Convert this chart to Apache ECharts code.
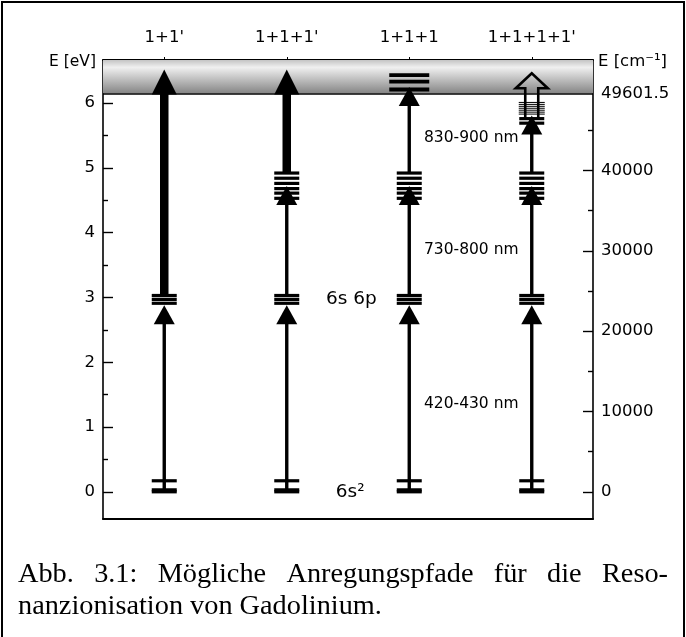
<!DOCTYPE html>
<html><head><meta charset="utf-8">
<script src="https://cdn.jsdelivr.net/npm/echarts@6/dist/echarts.min.js"></script>
<style>html,body{margin:0;padding:0;background:#fff}#c{width:686px;height:637px}</style>
</head><body><div id="c"></div>
<script>
// ---------- data ----------
const CM_PER_EV = 8065.544;
const columns = ["1+1'", "1+1+1'", "1+1+1", "1+1+1+1'"];
const leftTicks = [0, 1, 2, 3, 4, 5, 6];
const leftMinorTicks = [0.5, 1.5, 2.5, 3.5, 4.5, 5.5];
const rightTicksCm = [0, 10000, 20000, 30000, 40000];
const rightMinorTicksCm = [5000, 15000, 25000, 35000, 45000];
const ionLimitCm = 49601.5;

// energy levels (eV)
const groundEv = [0, 0.03, 0.17];
const firstExcitedEv = [2.91, 2.97, 3.03];          // 6s 6p
const secondExcitedEv = [4.53, 4.61, 4.68, 4.76, 4.84, 4.92];
const thirdExcitedEv = [5.69, 5.76];                // column 4
const rydbergEv = [5.83, 5.86, 5.89, 5.92, 5.95, 5.98, 6.01];
const autoIonEv = [6.21, 6.33, 6.43];               // column 3, above limit

// which level groups each column shows
const levelsByColumn = [
  [groundEv, firstExcitedEv],
  [groundEv, firstExcitedEv, secondExcitedEv],
  [groundEv, firstExcitedEv, secondExcitedEv],
  [groundEv, firstExcitedEv, secondExcitedEv, thirdExcitedEv]
];

// arrows [column, from eV, to eV]
const thinArrows = [
  [0, 0, 2.88], [1, 0, 2.88], [2, 0, 2.88], [3, 0, 2.88],
  [1, 3.03, 4.72], [2, 3.03, 4.72], [3, 3.03, 4.72],
  [2, 4.92, 6.25], [3, 4.92, 5.81]
];
const thickArrows = [[0, 3.03, 6.52], [1, 4.92, 6.52]];
const hollowArrows = [[3, 5.76, 6.46]];

const annotationTexts = ["6s 6p", "6s\u00b2", "420-430 nm", "730-800 nm", "830-900 nm"];
const annotationAnchors = [[1.32, 2.97], [1.40, 0.0], [2.12, 1.36], [2.12, 3.74], [2.12, 5.46]];

const captionLine1 = ['Abb.', '3.1:', 'Mögliche', 'Anregungspfade', 'für', 'die', 'Reso-'];
const captionLine2 = 'nanzionisation von Gadolinium.';

// ---------- build ----------
const yMin = -0.42, yMax = 6.665, xMin = -0.5, xMax = 3.5;
const ionEv = ionLimitCm / CM_PER_EV;
const toEv = cm => cm / CM_PER_EV;

const levelData = [];
levelsByColumn.forEach((groups, c) => groups.forEach(g => g.forEach(e => levelData.push([c, e]))));
const rydbergData = rydbergEv.map(e => [3, e]);
const autoIonData = autoIonEv.map(e => [2, e]);

const FONT = 'DejaVu Sans';

function levelRender(halfW, lw) {
  return function (params, api) {
    const p = api.coord([api.value(0), api.value(1)]);
    return { type: 'line', shape: { x1: p[0] - halfW, y1: p[1], x2: p[0] + halfW, y2: p[1] },
      style: { stroke: '#000', lineWidth: lw } };
  };
}
function arrowRender(shaftW, headW, headH) {
  return function (params, api) {
    const a = api.coord([api.value(0), api.value(1)]);
    const b = api.coord([api.value(0), api.value(2)]);
    const x = a[0], y0 = a[1], tip = b[1], base = tip + headH;
    return { type: 'group', children: [
      { type: 'rect', shape: { x: x - shaftW / 2, y: base - 1, width: shaftW, height: y0 - base + 1 }, style: { fill: '#000' } },
      { type: 'polygon', shape: { points: [[x, tip], [x - headW / 2, base], [x + headW / 2, base]] }, style: { fill: '#000' } }
    ] };
  };
}
function hollowRender(params, api) {
  const a = api.coord([api.value(0), api.value(1)]);
  const b = api.coord([api.value(0), api.value(2)]);
  const x = a[0], y0 = a[1], tip = b[1], base = tip + 15, sw = 6.5, hw = 16;
  return { type: 'polyline', shape: { points: [[x - sw, y0], [x - sw, base], [x - hw, base], [x, tip], [x + hw, base], [x + sw, base], [x + sw, y0]] },
    style: { stroke: '#000', lineWidth: 2.6, fill: null, lineJoin: 'miter' } };
}
function annotRender(params, api) {
  const p = api.coord([api.value(0), api.value(1)]);
  const i = params.dataIndex;
  const big = i < 2;
  return { type: 'text', x: p[0], y: p[1],
    style: { text: annotationTexts[i], fill: '#000', fontFamily: FONT, fontSize: big ? 18.5 : 15.5,
      align: 'left', verticalAlign: 'middle' } };
}

// caption layout via measured text
const ctx = document.createElement('canvas').getContext('2d');
const CAP_FONT = '"Liberation Serif"';
function tw(t, size) { ctx.font = size + 'px ' + CAP_FONT; return ctx.measureText(t).width; }
const capSize = 26 * 364 / tw(captionLine2, 26);
const capLeft = 18, capRight = 668;
const wordW = captionLine1.map(w => tw(w, capSize));
const gap = (capRight - capLeft - wordW.reduce((s, v) => s + v, 0)) / (captionLine1.length - 1);
const captionGraphics = [];
let cx = capLeft;
captionLine1.forEach((w, i) => {
  captionGraphics.push({ type: 'text', x: cx, y: 575, style: { text: w, font: capSize + 'px ' + CAP_FONT, fill: '#000', verticalAlign: 'middle' } });
  cx += wordW[i] + gap;
});
captionGraphics.push({ type: 'text', x: capLeft, y: 607, style: { text: captionLine2, font: capSize + 'px ' + CAP_FONT, fill: '#000', verticalAlign: 'middle' } });

const axisLineStyle = { color: '#000', width: 1.6 };
const tickStyle = { color: '#000', width: 1.4 };
const rightLabelCm = rightTicksCm.concat([ionLimitCm]);

const chart = echarts.init(document.getElementById('c'), null, { renderer: 'canvas' });
chart.setOption({
  animation: false,
  backgroundColor: '#fff',
  grid: { left: 103, right: 93, top: 60, bottom: 118, containLabel: false },
  xAxis: [
    { type: 'value', position: 'top', min: xMin, max: xMax,
      axisLine: { show: true, onZero: false, lineStyle: { color: '#000', width: 2 } },
      axisTick: { show: true, customValues: [0, 1, 2, 3], length: 3, inside: false, lineStyle: { color: '#000', width: 1 } },
      axisLabel: { customValues: [0, 1, 2, 3], formatter: v => columns[Math.round(v)], fontSize: 16.5, fontFamily: FONT, color: '#000', margin: 14 },
      splitLine: { show: false } },
    { type: 'value', position: 'bottom', min: xMin, max: xMax,
      axisLine: { show: true, onZero: false, lineStyle: { color: '#000', width: 2 } },
      axisTick: { show: false }, axisLabel: { show: false }, splitLine: { show: false } }
  ],
  yAxis: [
    { type: 'value', position: 'left', min: yMin, max: yMax,
      axisLine: { show: true, onZero: false, lineStyle: axisLineStyle },
      axisTick: { show: true, customValues: leftTicks, inside: true, length: 10, lineStyle: tickStyle },
      axisLabel: { customValues: leftTicks, fontSize: 16.5, fontFamily: FONT, color: '#000', margin: 8 },
      splitLine: { show: false } },
    { type: 'value', position: 'left', min: yMin, max: yMax,
      axisLine: { show: false, onZero: false },
      axisTick: { show: true, customValues: leftMinorTicks, inside: true, length: 5, lineStyle: tickStyle },
      axisLabel: { show: false }, splitLine: { show: false } },
    { type: 'value', position: 'right', min: yMin, max: yMax,
      axisLine: { show: true, onZero: false, lineStyle: axisLineStyle },
      axisTick: { show: true, customValues: rightTicksCm.map(toEv), inside: true, length: 10, lineStyle: tickStyle },
      axisLabel: { customValues: rightLabelCm.map(toEv), fontSize: 16.5, fontFamily: FONT, color: '#000', margin: 8,
        formatter: v => { const cm = v * CM_PER_EV; let best = rightLabelCm[0];
          rightLabelCm.forEach(c => { if (Math.abs(c - cm) < Math.abs(best - cm)) best = c; }); return String(best); } },
      splitLine: { show: false } },
    { type: 'value', position: 'right', min: yMin, max: yMax,
      axisLine: { show: false, onZero: false },
      axisTick: { show: true, customValues: rightMinorTicksCm.map(toEv), inside: true, length: 5, lineStyle: tickStyle },
      axisLabel: { show: false }, splitLine: { show: false } }
  ],
  graphic: [
    { type: 'polyline', shape: { points: [[2, 640], [2, 2], [684, 2], [684, 640]] }, style: { stroke: '#000', lineWidth: 2, fill: null } },
    { type: 'text', x: 96, y: 62, style: { text: 'E [eV]', fontFamily: FONT, fontSize: 15.5, fill: '#000', align: 'right', verticalAlign: 'middle' } },
    { type: 'text', x: 598, y: 62, style: { text: 'E [cm\u207b\u00b9]', fontFamily: FONT, fontSize: 16.5, fill: '#000', align: 'left', verticalAlign: 'middle' } }
  ].concat(captionGraphics),
  series: [
    { type: 'custom', name: 'band', silent: true, z: 1, data: [[0, ionEv]],
      renderItem: () => ({ type: 'group', children: [] }),
      markArea: { silent: true, itemStyle: { color: new echarts.graphic.LinearGradient(0, 0, 0, 1, [
          { offset: 0, color: '#c4c4c4' }, { offset: 0.22, color: '#f0f0f0' }, { offset: 1, color: '#858585' }]) },
        data: [[{ yAxis: ionEv }, { yAxis: yMax }]] },
      markLine: { silent: true, symbol: 'none', label: { show: false }, lineStyle: { color: '#000', width: 1.6, type: 'solid' },
        data: [{ yAxis: ionEv }] } },
    { type: 'custom', name: 'levels', silent: true, z: 3, data: levelData, encode: { x: 0, y: 1 }, renderItem: levelRender(12.5, 3.2) },
    { type: 'custom', name: 'autoionizing', silent: true, z: 3, data: autoIonData, encode: { x: 0, y: 1 }, renderItem: levelRender(20, 3.8) },
    { type: 'custom', name: 'rydberg', silent: true, z: 3, data: rydbergData, encode: { x: 0, y: 1 }, renderItem: levelRender(13, 1) },
    { type: 'custom', name: 'thin', silent: true, z: 4, data: thinArrows, encode: { x: 0, y: [1, 2] }, renderItem: arrowRender(3.4, 21, 19) },
    { type: 'custom', name: 'thick', silent: true, z: 4, data: thickArrows, encode: { x: 0, y: [1, 2] }, renderItem: arrowRender(8.5, 25, 25) },
    { type: 'custom', name: 'hollow', silent: true, z: 4, data: hollowArrows, encode: { x: 0, y: [1, 2] }, renderItem: hollowRender },
    { type: 'custom', name: 'annotations', silent: true, z: 5, data: annotationAnchors, encode: { x: 0, y: 1 }, renderItem: annotRender }
  ]
});
</script></body></html>
